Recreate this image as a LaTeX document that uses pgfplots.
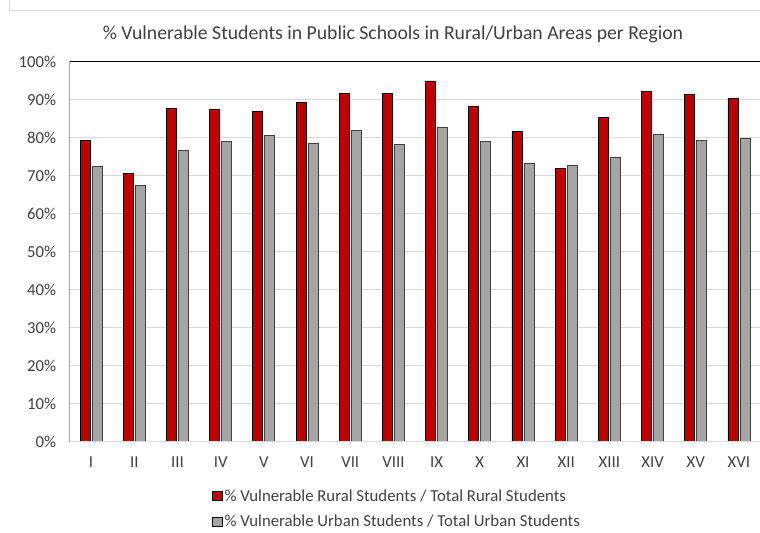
\documentclass[border=0pt]{standalone}
\usepackage{pgfplots}
\pgfplotsset{compat=1.18}
\usepackage{fontspec}
\setmainfont{Carlito}
\definecolor{rred}{HTML}{C00000}
\definecolor{ggray}{HTML}{A5A5A5}
\definecolor{gridc}{HTML}{D9D9D9}
\definecolor{txt}{HTML}{404040}
\begin{document}
\begin{tikzpicture}[x=1bp,y=1bp]
\useasboundingbox (0,0) rectangle (760,533);
\draw[gridc, line width=1bp] (9,533) -- (9,522) -- (760,522);
\node[txt, font=\fontsize{19.8}{22}\selectfont] at (393,499) {\% Vulnerable Students in Public Schools in Rural/Urban Areas per Region};
\begin{axis}[
  at={(69.5bp,91bp)}, anchor=south west,
  scale only axis, width=691bp, height=380bp,
  ybar=2bp, bar width=10bp,
  xmin=-0.5, xmax=15.5, ymin=0, ymax=100,
  xtick={0,...,15},
  xticklabels={I,II,III,IV,V,VI,VII,VIII,IX,X,XI,XII,XIII,XIV,XV,XVI},
  ytick={0,10,...,100},
  yticklabel={\pgfmathprintnumber{\tick}\%},
  /pgf/number format/assume math mode=true,
  tick style={draw=none},
  ymajorgrids, grid style={gridc, line width=1bp},
  axis line style={draw=none},
  ticklabel style={txt, font=\fontsize{16.8}{19}\selectfont},
  yticklabel style={xshift=-10bp},
  xticklabel style={yshift=-7bp},
  legend style={at={(rel axis cs:0.2013,-0.114)}, anchor=north west, draw=none, fill=none,
    font=\fontsize{16.8}{19}\selectfont, text=txt, row sep=8.5bp, cells={anchor=west}},
  legend cell align=left,
  legend image code/.code={\draw[#1, draw=black] (0bp,-4.5bp) rectangle (10bp,4.5bp);},
]
\addplot[fill=rred, draw=black, line width=0.8bp] coordinates {
(0,79.3) (1,70.6) (2,87.7) (3,87.5) (4,86.9) (5,89.3) (6,91.8) (7,91.8)
(8,95.0) (9,88.2) (10,81.7) (11,72.0) (12,85.3) (13,92.2) (14,91.5) (15,90.5)};
\addlegendentry{\% Vulnerable Rural Students / Total Rural Students}
\addplot[fill=ggray, draw=black!75, line width=0.8bp] coordinates {
(0,72.4) (1,67.4) (2,76.8) (3,79.2) (4,80.6) (5,78.6) (6,82.1) (7,78.3)
(8,82.7) (9,79.2) (10,73.2) (11,72.9) (12,75.0) (13,81.0) (14,79.4) (15,80.0)};
\addlegendentry{\% Vulnerable Urban Students / Total Urban Students}
\draw[black, line width=1bp] (rel axis cs:0,0) -- (rel axis cs:0,1) -- (rel axis cs:1,1) -- (rel axis cs:1,0);
\draw[gridc, line width=1bp] (rel axis cs:0,0) -- (rel axis cs:1,0);
\end{axis}
\end{tikzpicture}
\end{document}
